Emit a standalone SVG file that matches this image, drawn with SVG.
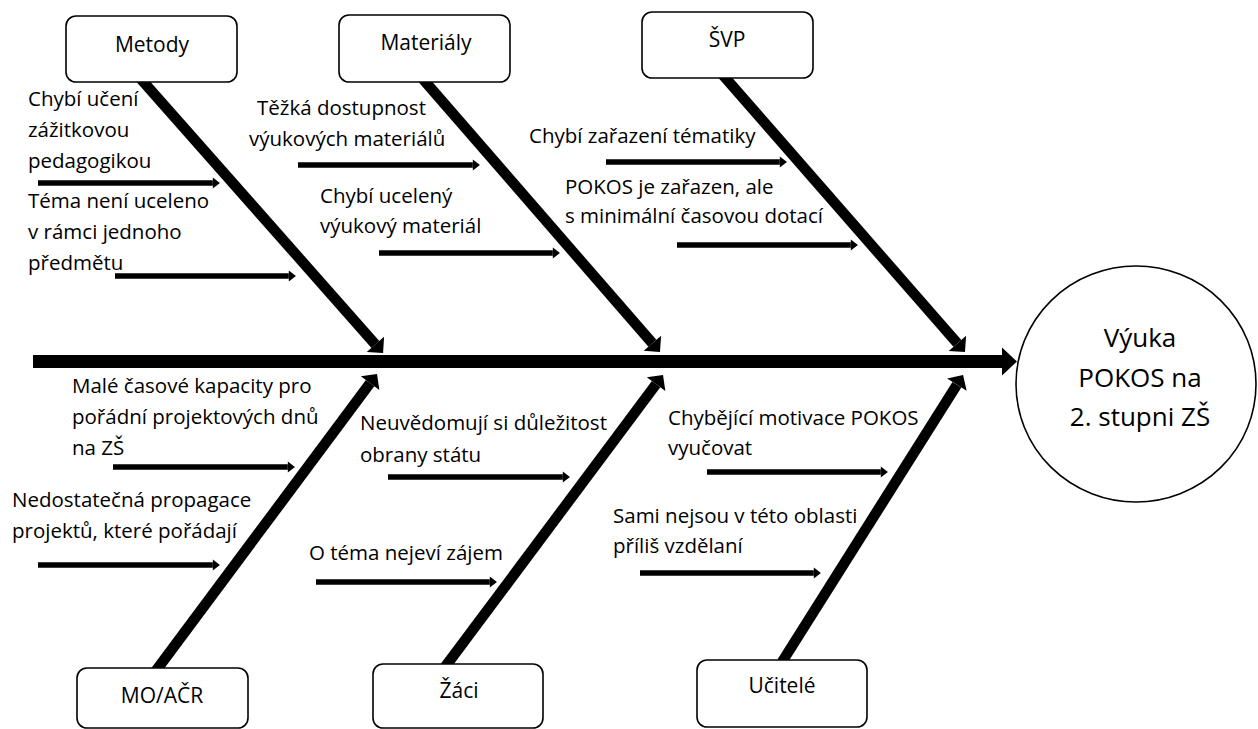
<svg xmlns="http://www.w3.org/2000/svg" width="1258" height="729" viewBox="0 0 1258 729">
<style>
text{font-family:"Open Sans","Liberation Sans",sans-serif;fill:#000;font-size:20.5px}
.lbl{text-anchor:middle;font-size:21px}
.big{text-anchor:middle;font-size:26px}
.box{fill:#fff;stroke:#000;stroke-width:1.6}
.spine{stroke:#000;stroke-width:13;fill:none;marker-end:url(#hs)}
.bone{stroke:#000;stroke-width:10.5;fill:none;marker-end:url(#hb)}
.sub{stroke:#000;stroke-width:5.5;fill:none;marker-end:url(#ha)}
</style>
<defs>
<marker id="hs" viewBox="0 -1.1 1.2 2.2" refX="0" refY="0" markerWidth="1.2" markerHeight="2.2" markerUnits="strokeWidth" orient="auto" overflow="visible"><path d="M0,-1.08 L1.15,0 L0,1.08 z" fill="#000"/></marker>
<marker id="hb" viewBox="0 -1.1 1.1 2.2" refX="0" refY="0" markerWidth="1.1" markerHeight="2.2" markerUnits="strokeWidth" orient="auto" overflow="visible"><path d="M0,-1.1 L1.1,0 L0,1.1 z" fill="#000"/></marker>
<marker id="ha" viewBox="0 -1 1.3 2" refX="0" refY="0" markerWidth="1.3" markerHeight="2" markerUnits="strokeWidth" orient="auto" overflow="visible"><path d="M0,-1 L1.3,0 L0,1 z" fill="#000"/></marker>
</defs>
<rect width="1258" height="729" fill="#fff"/>
<g id="connectors">
<line class="spine" x1="33" y1="361.5" x2="1002" y2="361.5"/>
<line class="bone" x1="140" y1="78" x2="375.4" y2="344.4"/>
<line class="bone" x1="422" y1="78" x2="652.4" y2="343.3"/>
<line class="bone" x1="722" y1="74" x2="957.4" y2="343.4"/>
<line class="bone" x1="155" y1="672" x2="370.1" y2="383.2"/>
<line class="bone" x1="445" y1="667" x2="656.1" y2="384.2"/>
<line class="bone" x1="782" y1="662" x2="956.9" y2="384.7"/>
<line class="sub" x1="38" y1="183" x2="212.8" y2="183"/>
<line class="sub" x1="115" y1="276" x2="288.8" y2="276"/>
<line class="sub" x1="298" y1="165" x2="472.8" y2="165"/>
<line class="sub" x1="379" y1="253" x2="552.8" y2="253"/>
<line class="sub" x1="606" y1="162" x2="779.8" y2="162"/>
<line class="sub" x1="677" y1="245" x2="850.8" y2="245"/>
<line class="sub" x1="113" y1="467" x2="287.8" y2="467"/>
<line class="sub" x1="38" y1="565" x2="212.8" y2="565"/>
<line class="sub" x1="388" y1="477" x2="562.8" y2="477"/>
<line class="sub" x1="316" y1="582" x2="489.8" y2="582"/>
<line class="sub" x1="707" y1="472" x2="880.8" y2="472"/>
<line class="sub" x1="640" y1="573" x2="813.8" y2="573"/>
</g>
<g id="metody">
<rect class="box" x="66" y="16" width="171" height="66" rx="10"/>
<text class="lbl" x="152" y="52">Metody</text>
<text x="28" y="106">Chybí učení</text>
<text x="28" y="137">zážitkovou</text>
<text x="28" y="168">pedagogikou</text>
<text x="28" y="208">Téma není uceleno</text>
<text x="28" y="239">v rámci jednoho</text>
<text x="28" y="270">předmětu</text>
</g>
<g id="materialy">
<rect class="box" x="339" y="15" width="171" height="67" rx="10"/>
<text class="lbl" x="426" y="50">Materiály</text>
<text x="257" y="115">Těžká dostupnost</text>
<text x="249" y="146">výukových materiálů</text>
<text x="320" y="203">Chybí ucelený</text>
<text x="320" y="233">výukový materiál</text>
</g>
<g id="svp">
<rect class="box" x="642" y="12" width="171" height="66" rx="10"/>
<text class="lbl" x="727" y="47">ŠVP</text>
<text x="529" y="143">Chybí zařazení tématiky</text>
<text x="565" y="194">POKOS je zařazen, ale</text>
<text x="565" y="223">s minimální časovou dotací</text>
</g>
<g id="moacr">
<rect class="box" x="77" y="668" width="171" height="60" rx="10"/>
<text class="lbl" x="162" y="703">MO/AČR</text>
<text x="72" y="393">Malé časové kapacity pro</text>
<text x="72" y="424">pořádní projektových dnů</text>
<text x="72" y="455">na ZŠ</text>
<text x="12" y="507">Nedostatečná propagace</text>
<text x="12" y="538">projektů, které pořádají</text>
</g>
<g id="zaci">
<rect class="box" x="373" y="664" width="170" height="64" rx="10"/>
<text class="lbl" x="459" y="698">Žáci</text>
<text x="360" y="430">Neuvědomují si důležitost</text>
<text x="360" y="462">obrany státu</text>
<text x="309" y="560">O téma nejeví zájem</text>
</g>
<g id="ucitele">
<rect class="box" x="697" y="660" width="170" height="67" rx="10"/>
<text class="lbl" x="782" y="693">Učitelé</text>
<text x="668" y="425">Chybějící motivace POKOS</text>
<text x="668" y="455">vyučovat</text>
<text x="613" y="523">Sami nejsou v této oblasti</text>
<text x="613" y="553">příliš vzdělaní</text>
</g>
<g id="vysledek">
<ellipse cx="1136" cy="384" rx="120" ry="118" fill="#fff" stroke="#000" stroke-width="1.6"/>
<text class="big" x="1140" y="347">Výuka</text>
<text class="big" x="1140" y="387">POKOS na</text>
<text class="big" x="1140" y="426">2. stupni ZŠ</text>
</g>
</svg>
